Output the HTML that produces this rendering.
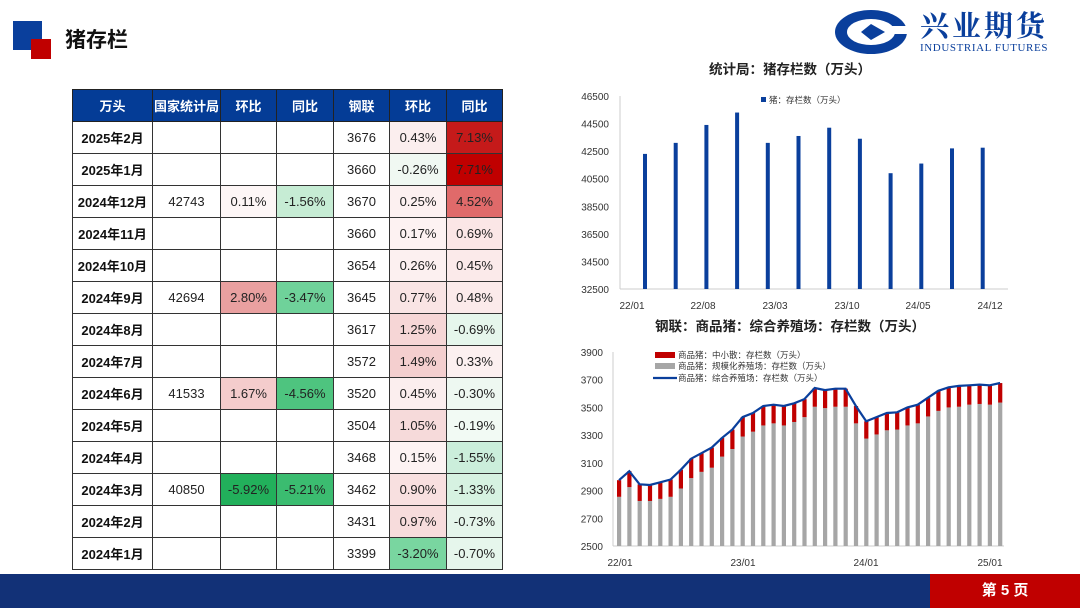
<!DOCTYPE html>
<html><head><meta charset="utf-8"><style>
body{margin:0;width:1080px;height:608px;overflow:hidden;background:#fff;font-family:"Liberation Sans","Noto Sans CJK SC",sans-serif;position:relative}
.abs{position:absolute}
table{position:absolute;left:72px;top:89px;border-collapse:collapse;font-size:13px;table-layout:fixed}
td{border:1px solid #333;height:31px;padding:0;text-align:center;color:#222}
th{background:#043c96;color:#fff;border:1px solid #222;height:31px;font-size:13px;padding:0}
td.l{font-weight:bold;color:#111}
</style></head><body>
<div class="abs" style="left:13px;top:21px;width:29px;height:29px;background:#0a3f9c"></div>
<div class="abs" style="left:31px;top:39px;width:20px;height:20px;background:#c00000"></div>
<div class="abs" style="left:65px;top:24px;font-size:21px;font-weight:bold;color:#111">猪存栏</div>
<svg class="abs" style="left:833px;top:8px" width="80" height="50"><ellipse cx="38" cy="24" rx="36" ry="22" fill="#0a3f9c"/><ellipse cx="38" cy="24" rx="24" ry="13" fill="#fff"/><path d="M28 24 L38 16 L52 24 L38 32Z" fill="#0a3f9c"/><rect x="52" y="18" width="22" height="8" fill="#fff"/></svg>
<div class="abs" style="left:920px;top:8px;font-size:29px;font-weight:bold;color:#0a3f9c;letter-spacing:3px;font-family:'Noto Serif CJK SC',serif;line-height:34px">兴业期货</div>
<div class="abs" style="left:920px;top:42px;font-size:11px;color:#0a3f9c;font-family:'Liberation Serif',serif;letter-spacing:0.6px">INDUSTRIAL FUTURES</div>

<table>
<colgroup><col style="width:80px"><col style="width:68px"><col style="width:56px"><col style="width:57px"><col style="width:56px"><col style="width:57px"><col style="width:56px"></colgroup>
<tr><th>万头</th><th>国家统计局</th><th>环比</th><th>同比</th><th>钢联</th><th>环比</th><th>同比</th></tr>
<tr><td class="l">2025年2月</td><td></td><td></td><td></td><td>3676</td><td style="background:#fbeeee">0.43%</td><td style="background:#c51a1a">7.13%</td></tr>
<tr><td class="l">2025年1月</td><td></td><td></td><td></td><td>3660</td><td style="background:#f0f8f2">-0.26%</td><td style="background:#c00000">7.71%</td></tr>
<tr><td class="l">2024年12月</td><td>42743</td><td style="background:#fdf6f6">0.11%</td><td style="background:#c6ecd4">-1.56%</td><td>3670</td><td style="background:#fcf0f0">0.25%</td><td style="background:#e06a6a">4.52%</td></tr>
<tr><td class="l">2024年11月</td><td></td><td></td><td></td><td>3660</td><td style="background:#fdf2f2">0.17%</td><td style="background:#fbe6e6">0.69%</td></tr>
<tr><td class="l">2024年10月</td><td></td><td></td><td></td><td>3654</td><td style="background:#fcf0f0">0.26%</td><td style="background:#fbeaea">0.45%</td></tr>
<tr><td class="l">2024年9月</td><td>42694</td><td style="background:#e9a0a0">2.80%</td><td style="background:#6fd29a">-3.47%</td><td>3645</td><td style="background:#f9e4e4">0.77%</td><td style="background:#fbeaea">0.48%</td></tr>
<tr><td class="l">2024年8月</td><td></td><td></td><td></td><td>3617</td><td style="background:#f6d6d6">1.25%</td><td style="background:#e6f6ec">-0.69%</td></tr>
<tr><td class="l">2024年7月</td><td></td><td></td><td></td><td>3572</td><td style="background:#f4cfcf">1.49%</td><td style="background:#fcf0f0">0.33%</td></tr>
<tr><td class="l">2024年6月</td><td>41533</td><td style="background:#f4cccc">1.67%</td><td style="background:#4ec47f">-4.56%</td><td>3520</td><td style="background:#fbeeee">0.45%</td><td style="background:#eef8f1">-0.30%</td></tr>
<tr><td class="l">2024年5月</td><td></td><td></td><td></td><td>3504</td><td style="background:#f6dada">1.05%</td><td style="background:#f2faf4">-0.19%</td></tr>
<tr><td class="l">2024年4月</td><td></td><td></td><td></td><td>3468</td><td style="background:#fdf3f3">0.15%</td><td style="background:#cbeedb">-1.55%</td></tr>
<tr><td class="l">2024年3月</td><td>40850</td><td style="background:#22b05b">-5.92%</td><td style="background:#3bbc70">-5.21%</td><td>3462</td><td style="background:#f8e0e0">0.90%</td><td style="background:#d6f2e1">-1.33%</td></tr>
<tr><td class="l">2024年2月</td><td></td><td></td><td></td><td>3431</td><td style="background:#f7dcdc">0.97%</td><td style="background:#e5f5eb">-0.73%</td></tr>
<tr><td class="l">2024年1月</td><td></td><td></td><td></td><td>3399</td><td style="background:#79d6a0">-3.20%</td><td style="background:#e6f6ec">-0.70%</td></tr>
</table>

<svg id="c" class="abs" style="left:0;top:0" width="1080" height="608" font-family="Liberation Sans,Noto Sans CJK SC,sans-serif"></svg>

<div class="abs" style="left:0;top:574px;width:1080px;height:34px;background:#123177"></div>
<div class="abs" style="left:930px;top:574px;width:150px;height:34px;background:#c00000;color:#fff;font-weight:bold;font-size:15px;line-height:34px;text-align:center">第 5 页</div>
<script>
let s='';
s+='<text x="790" y="74" text-anchor="middle" font-size="13.5" font-weight="bold" fill="#222">统计局：猪存栏数（万头）</text>';
for(let i=0;i<=7;i++){let v=32500+i*2000,y=289-i*(193/7);s+=`<text x="609" y="${y+4}" text-anchor="end" font-size="10" fill="#333">${v}</text>`;}
s+='<line x1="620" y1="96" x2="620" y2="289" stroke="#ccc"/><line x1="620" y1="289" x2="1008" y2="289" stroke="#ccc"/>';
const v1=[42300,43100,44400,45300,43100,43600,44200,43400,40900,41600,42700,42750];
v1.forEach((v,i)=>{let x=645+i*30.7,y=289-(v-32500)*193/14000;s+=`<rect x="${x-2}" y="${y}" width="4" height="${289-y}" fill="#0a3f9c"/>`;});
[['22/01',632],['22/08',703],['23/03',775],['23/10',847],['24/05',918],['24/12',990]].forEach(a=>s+=`<text x="${a[1]}" y="309" text-anchor="middle" font-size="10" fill="#333">${a[0]}</text>`);
s+='<rect x="761" y="97" width="5" height="5" fill="#0a3f9c"/><text x="769" y="103" font-size="8.5" fill="#333">猪：存栏数（万头）</text>';
s+='<text x="790" y="331" text-anchor="middle" font-size="13.5" font-weight="bold" fill="#222">钢联：商品猪：综合养殖场：存栏数（万头）</text>';
const Y=v=>546-(v-2500)*194/1400;
for(let i=0;i<=7;i++){let v=2500+i*200;s+=`<text x="603" y="${Y(v)+4}" text-anchor="end" font-size="10" fill="#333">${v}</text>`;}
s+='<line x1="613" y1="352" x2="613" y2="546" stroke="#ccc"/><line x1="613" y1="546" x2="1004" y2="546" stroke="#ccc"/>';
const T=[2975,3040,2945,2940,2960,2980,3050,3130,3170,3210,3280,3340,3430,3460,3510,3520,3510,3530,3560,3640,3625,3635,3635,3510,3400,3430,3460,3465,3500,3520,3570,3620,3645,3655,3660,3665,3660,3676];
const G=[2855,2925,2825,2825,2840,2855,2915,2990,3035,3065,3145,3200,3290,3325,3370,3385,3370,3395,3430,3505,3495,3505,3505,3385,3275,3305,3335,3340,3370,3385,3435,3475,3500,3505,3520,3525,3520,3535];
let pts=[];
T.forEach((t,i)=>{let x=619+i*10.3;s+=`<rect x="${x-2}" y="${Y(G[i])}" width="4.2" height="${546-Y(G[i])}" fill="#a6a6a6"/><rect x="${x-2}" y="${Y(t)}" width="4.2" height="${Y(G[i])-Y(t)}" fill="#c00000"/>`;pts.push(x.toFixed(1)+','+Y(t).toFixed(1));});
s+=`<polyline points="${pts.join(' ')}" fill="none" stroke="#0a3f9c" stroke-width="2.2"/>`;
[['22/01',620],['23/01',743],['24/01',866],['25/01',990]].forEach(a=>s+=`<text x="${a[1]}" y="566" text-anchor="middle" font-size="10" fill="#333">${a[0]}</text>`);
s+='<rect x="655" y="352" width="20" height="6" fill="#c00000"/><text x="678" y="358" font-size="8.5" fill="#333">商品猪：中小散：存栏数（万头）</text>';
s+='<rect x="655" y="363" width="20" height="6" fill="#a6a6a6"/><text x="678" y="369" font-size="8.5" fill="#333">商品猪：规模化养殖场：存栏数（万头）</text>';
s+='<line x1="653" y1="378" x2="677" y2="378" stroke="#0a3f9c" stroke-width="2.2"/><text x="678" y="381" font-size="8.5" fill="#333">商品猪：综合养殖场：存栏数（万头）</text>';
document.getElementById('c').innerHTML=s;
</script>
</body></html>
